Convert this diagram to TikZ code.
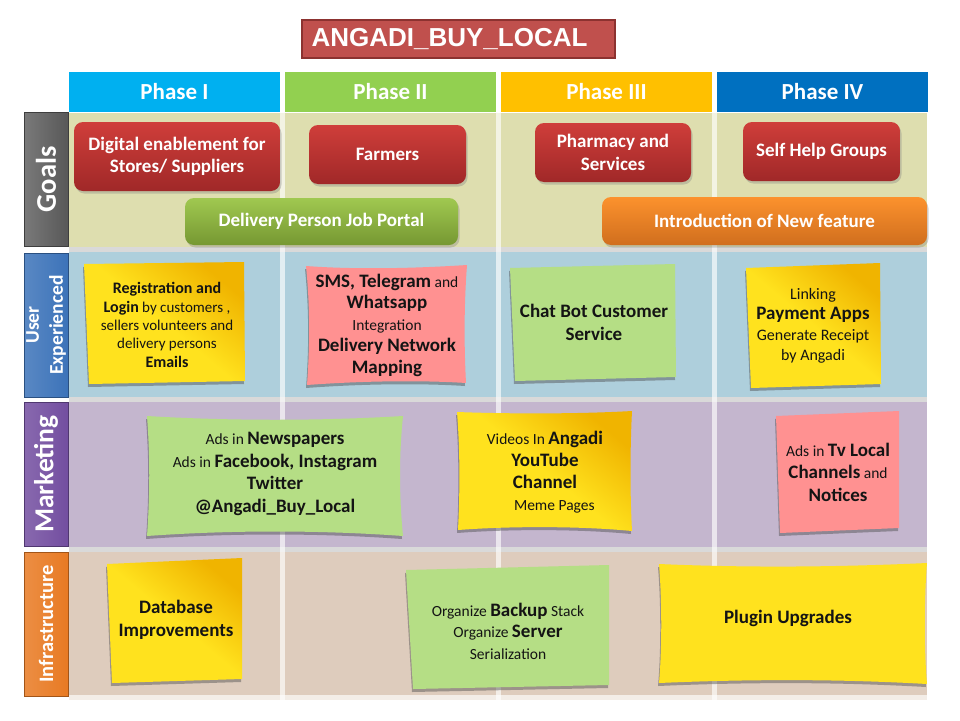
\documentclass[tikz,border=0pt]{standalone}
\usepackage{fontspec}
\setmainfont{Carlito}
\newfontfamily\titlefont{Liberation Sans}
\usetikzlibrary{shadows}
\definecolor{ttlfill}{RGB}{192,80,77}
\definecolor{ttlline}{RGB}{140,50,48}
\definecolor{ph1}{RGB}{0,176,240}
\definecolor{ph2}{RGB}{146,208,80}
\definecolor{ph3}{RGB}{255,192,0}
\definecolor{ph4}{RGB}{0,112,192}
\definecolor{goalbg}{RGB}{222,222,175}
\definecolor{uxbg}{RGB}{174,207,220}
\definecolor{mkbg}{RGB}{196,182,206}
\definecolor{infbg}{RGB}{222,204,189}
\definecolor{sepgray}{RGB}{217,217,217}
\definecolor{redA}{RGB}{207,62,58}
\definecolor{redB}{RGB}{160,40,40}
\definecolor{grnA}{RGB}{160,200,80}
\definecolor{grnB}{RGB}{118,152,50}
\definecolor{orgA}{RGB}{252,146,45}
\definecolor{orgB}{RGB}{208,110,30}
\definecolor{ylw}{RGB}{255,226,30}
\definecolor{ylwdark}{RGB}{240,180,0}
\definecolor{pinkst}{RGB}{255,145,145}
\definecolor{grnst}{RGB}{181,222,133}
\definecolor{labgray}{RGB}{88,88,88}
\definecolor{labblue}{RGB}{60,115,185}
\definecolor{labpurp}{RGB}{115,78,160}
\definecolor{laborg}{RGB}{232,122,35}
\definecolor{inktext}{RGB}{20,20,20}
\newcommand\bb[1]{{\fontsize{19}{20}\selectfont\bfseries #1}}
\tikzset{
  hdr/.style={minimum width=211, minimum height=40, inner sep=0, text=white,
    font=\fontsize{23}{26}\selectfont\bfseries},
  goalbox/.style={rounded corners=9pt, text=white, align=center, inner sep=0,
    font=\fontsize{19}{22.5}\selectfont\bfseries,
    drop shadow={opacity=.35, shadow xshift=1.5pt, shadow yshift=-2.5pt}},
  goalred/.style={goalbox, top color=redA, bottom color=redB},
  goalgrn/.style={goalbox, top color=grnA, bottom color=grnB},
  goalorg/.style={goalbox, top color=orgA, bottom color=orgB},
  labbox/.style={minimum width=44, inner sep=0, line width=1pt},
  labtext/.style={rotate=90, text=white, align=center, inner sep=0},
  stickshadow/.style={drop shadow={opacity=.45, shadow xshift=-1pt, shadow yshift=-3pt, fill=black!70}},
  ylwfill/.style={top color=ylwdark, bottom color=ylw, middle color=ylw, shading angle=-40, stickshadow},
  pinkfill/.style={fill=pinkst, stickshadow},
  grnfill/.style={fill=grnst, stickshadow},
  flatylw/.style={fill=ylw, stickshadow},
  sticktext/.style={align=center, inner sep=0, text=inktext, font=\fontsize{15.5}{21}\selectfont},
}
\begin{document}
\begin{tikzpicture}[x=1pt,y=-1pt]
\useasboundingbox (0,0) rectangle (960,720);
\fill[white] (0,0) rectangle (960,720);

% title
\node[fill=ttlfill, draw=ttlline, line width=2.5pt, minimum width=313, minimum height=38, inner sep=0,
  text=white, font=\titlefont\fontsize{26}{28}\selectfont\bfseries] (title) at (458.5,39) {ANGADI\_BUY\_LOCAL\kern18pt};

% phase headers
\node[hdr, fill=ph1] (p1) at (174.5,92) {Phase I};
\node[hdr, fill=ph2] (p2) at (390.5,92) {Phase II};
\node[hdr, fill=ph3] (p3) at (606.5,92) {Phase III};
\node[hdr, fill=ph4] (p4) at (822.5,92) {Phase IV};

% row bands
\fill[goalbg] (69,113) rectangle (927,247);
\fill[uxbg] (69,252) rectangle (927,397);
\fill[mkbg] (69,402) rectangle (927,547);
\fill[infbg] (69,552) rectangle (927,700);
\fill[sepgray] (69,247) rectangle (927,252);
\fill[sepgray] (69,397) rectangle (927,402);
\fill[sepgray] (69,547) rectangle (927,552);
\fill[white, opacity=.65] (280,113) rectangle (285,700);
\fill[white, opacity=.65] (496,113) rectangle (501,700);
\fill[white, opacity=.65] (712,113) rectangle (717,700);
\fill[white, opacity=.65] (69,695) rectangle (927,700);

% row labels
\node[labbox, minimum height=134, left color=labgray!80!white, right color=labgray, draw=labgray!70!black] (lg) at (46,179.5) {};
\node[labtext, font=\fontsize{28.5}{30}\selectfont\bfseries] (lgt) at (lg) {Goals};
\node[labbox, minimum height=144, left color=labblue!85!white, right color=labblue, draw=labblue!70!black] (lu) at (46,325) {};
\node[labtext, font=\fontsize{19.5}{24}\selectfont\bfseries] (lut) at (lu) {User\\Experienced};
\node[labbox, minimum height=144, left color=labpurp!85!white, right color=labpurp, draw=labpurp!70!black] (lm) at (46,474) {};
\node[labtext, font=\fontsize{27.5}{30}\selectfont\bfseries] (lmt) at (lm) {Marketing};
\node[labbox, minimum height=144, left color=laborg!85!white, right color=laborg, draw=laborg!70!black] (li) at (46,624) {};
\node[labtext, font=\fontsize{20.5}{24}\selectfont\bfseries] (lit) at (li) {Infrastructure};

% goals
\node[goalred, minimum width=206, minimum height=69] (g1) at (177,156.5) {Digital enablement for\\Stores/ Suppliers};
\node[goalred, minimum width=157, minimum height=59] (g2) at (387.5,154.5) {Farmers};
\node[goalred, minimum width=156, minimum height=59] (g3) at (613,152.5) {Pharmacy and\\Services};
\node[goalred, minimum width=157, minimum height=59] (g4) at (821.5,151.5) {Self Help Groups};
\node[goalgrn, minimum width=273, minimum height=47] (g5) at (321.5,221.5) {Delivery Person Job Portal};
\node[goalorg, minimum width=325, minimum height=48] (g6) at (764.5,221) {Introduction of New feature};

% user experienced stickies
\path[ylwfill] (84,264) -- (244,262) -- (245,381) -- (89,384) -- cycle;
\node[sticktext, font=\fontsize{15}{18.3}\selectfont] (u1) at (167,325)
  {{\fontsize{16}{18}\selectfont\bfseries Registration and}\\{\fontsize{16}{18}\selectfont\bfseries Login} by customers ,\\sellers volunteers and\\delivery persons\\{\fontsize{16}{18}\selectfont\bfseries Emails}};
\path[pinkfill] (306,266) .. controls (360,270) and (420,268) .. (467,265)
  .. controls (464,305) and (464,345) .. (466,383)
  .. controls (420,380) and (360,381) .. (307,385)
  .. controls (310,345) and (310,305) .. cycle;
\node[sticktext, font=\fontsize{15.5}{21.5}\selectfont] (u2) at (387,325)
  {\bb{SMS, Telegram} and\\\bb{Whatsapp}\\Integration\\\bb{Delivery Network}\\\bb{Mapping}};
\path[grnfill] (510,268) -- (675,264) -- (676,377) -- (515,381) -- cycle;
\node[sticktext, font=\fontsize{15.5}{23}\selectfont] (u3) at (594,322) {\bb{Chat Bot Customer}\\\bb{Service}};
\path[ylwfill] (746,268) -- (880,263) -- (881,384) -- (751,388) -- cycle;
\node[sticktext, font=\fontsize{16}{20.5}\selectfont] (u4) at (813,326)
  {Linking\\\bb{Payment Apps}\\Generate Receipt\\by Angadi};

% marketing stickies
\path[grnfill] (147,416) .. controls (230,421) and (320,421) .. (403,416)
  .. controls (399,455) and (399,495) .. (403,536)
  .. controls (320,530) and (230,530) .. (147,536)
  .. controls (150,495) and (150,455) .. cycle;
\node[sticktext, font=\fontsize{15.5}{22.7}\selectfont] (m1) at (275,474)
  {Ads in \bb{Newspapers}\\Ads in \bb{Facebook, Instagram}\\\bb{Twitter}\\\bb{@Angadi\_Buy\_Local}};
\path[ylwfill] (457,412) .. controls (510,414) and (580,414) .. (632,411)
  .. controls (630,450) and (630,495) .. (632,531)
  .. controls (580,526) and (510,526) .. (458,530)
  .. controls (460,490) and (460,450) .. cycle;
\node[sticktext, font=\fontsize{15.5}{22}\selectfont] (m2) at (545,472)
  {Videos In \bb{Angadi}\\\bb{YouTube}\\\bb{Channel}\\\hspace{1.2em}Meme Pages};
\path[pinkfill] (776,416) -- (899,411) -- (899,528) -- (780,533) -- cycle;
\node[sticktext, font=\fontsize{15.5}{22.5}\selectfont] (m3) at (838,472)
  {Ads in \bb{Tv Local}\\\bb{Channels} and\\\bb{Notices}};

% infrastructure stickies
\path[ylwfill] (107,564) -- (242,558) -- (242,679) -- (112,683) -- cycle;
\node[sticktext, font=\fontsize{15.5}{23}\selectfont] (i1) at (176,620) {\bb{Database}\\\bb{Improvements}};
\path[grnfill] (406,570) -- (609,565) -- (609,685) -- (413,689) -- cycle;
\node[sticktext, font=\fontsize{15.5}{21.5}\selectfont] (i2) at (508,631)
  {Organize \bb{Backup} Stack\\Organize \bb{Server}\\Serialization};
\path[flatylw] (659,564) .. controls (750,568) and (840,567) .. (927,563)
  .. controls (924,600) and (924,650) .. (927,684)
  .. controls (840,679) and (750,679) .. (659,683)
  .. controls (662,650) and (662,600) .. cycle;
\node[sticktext] (i3) at (788,618) {\bb{Plugin Upgrades}};
\end{tikzpicture}
\end{document}
